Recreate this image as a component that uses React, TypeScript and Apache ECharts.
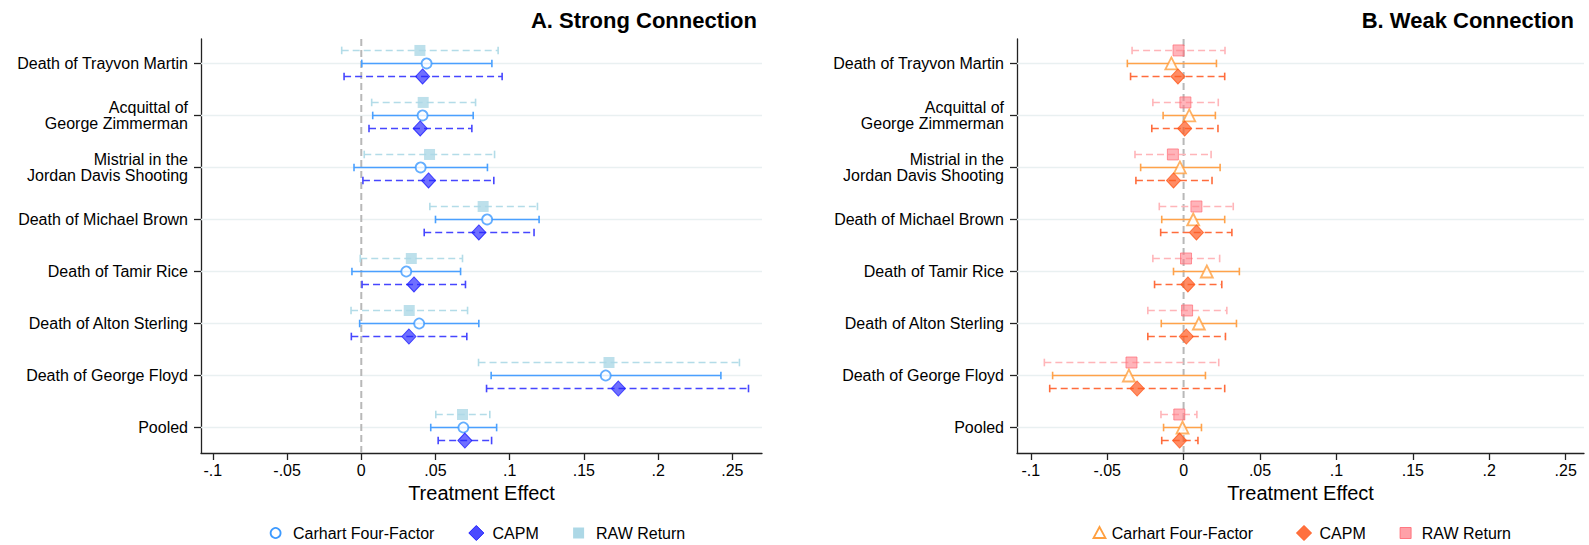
import React, { useEffect, useRef } from "react";
import * as echarts from "echarts";

// Events on the vertical axis, top to bottom
const events = [
  "Death of Trayvon Martin",
  "Acquittal of\nGeorge Zimmerman",
  "Mistrial in the\nJordan Davis Shooting",
  "Death of Michael Brown",
  "Death of Tamir Rice",
  "Death of Alton Sterling",
  "Death of George Floyd",
  "Pooled",
];

const xTickValues = [-0.1, -0.05, 0, 0.05, 0.1, 0.15, 0.2, 0.25];
const xTickLabels = ["-.1", "-.05", "0", ".05", ".1", ".15", ".2", ".25"];

// Panel A: strong connection
const strongCarhart = [0.044, 0.0413, 0.04, 0.0848, 0.0303, 0.039, 0.1647, 0.0688];
const strongCarhartLo = [0.0003, 0.0077, -0.0049, 0.05, -0.0063, -0.0011, 0.0875, 0.0468];
const strongCarhartHi = [0.088, 0.0754, 0.085, 0.1198, 0.0669, 0.0792, 0.2423, 0.0912];
const strongCapm = [0.0413, 0.0397, 0.0453, 0.0792, 0.0355, 0.0321, 0.1732, 0.0698];
const strongCapmLo = [-0.0116, 0.0052, 0.0011, 0.0424, 0.0005, -0.0067, 0.0844, 0.0518];
const strongCapmHi = [0.0949, 0.0745, 0.0893, 0.1164, 0.0702, 0.0711, 0.2609, 0.0878];
const strongRaw = [0.0395, 0.0417, 0.046, 0.0821, 0.0337, 0.0323, 0.1669, 0.0682];
const strongRawLo = [-0.0132, 0.007, 0.002, 0.0462, -0.0007, -0.0069, 0.079, 0.0502];
const strongRawHi = [0.0922, 0.077, 0.0898, 0.1187, 0.0682, 0.0716, 0.2548, 0.0866];

// Panel B: weak connection
const weakCarhart = [-0.008, 0.0037, -0.0024, 0.0063, 0.0152, 0.01, -0.0358, -0.0007];
const weakCarhartLo = [-0.0368, -0.0134, -0.0281, -0.0143, -0.0066, -0.0146, -0.0857, -0.0131];
const weakCarhartHi = [0.0215, 0.0208, 0.0239, 0.0269, 0.0365, 0.0346, 0.0143, 0.0117];
const weakCapm = [-0.0037, 0.0007, -0.0066, 0.0084, 0.0028, 0.0018, -0.0304, -0.0026];
const weakCapmLo = [-0.0347, -0.0208, -0.0312, -0.015, -0.019, -0.0234, -0.0876, -0.0143];
const weakCapmHi = [0.0269, 0.0225, 0.0186, 0.0316, 0.025, 0.0274, 0.0269, 0.0094];
const weakRaw = [-0.0033, 0.0012, -0.007, 0.0084, 0.0016, 0.0023, -0.0341, -0.0028];
const weakRawLo = [-0.0337, -0.0201, -0.0318, -0.0159, -0.0201, -0.0234, -0.0911, -0.0148];
const weakRawHi = [0.0271, 0.0227, 0.018, 0.0325, 0.0236, 0.0283, 0.023, 0.0087];

const FONT = '"Liberation Sans", Arial, Helvetica, sans-serif';

type Spec = {
  name: string;
  est: number[];
  lo: number[];
  hi: number[];
  offset: number;
  lineColor: string;
  dashed: boolean;
  symbol: string;
  symbolSize: number | number[];
  itemStyle: any;
};

function tickLabel(v: number) {
  const i = xTickValues.findIndex((t) => Math.abs(t - v) < 1e-9);
  return i >= 0 ? xTickLabels[i] : "";
}

function panelSeries(idx: number, specs: Spec[]) {
  const out: any[] = [];
  // horizontal guide line at each event
  out.push({
    type: "custom",
    name: "grid" + idx,
    xAxisIndex: idx,
    yAxisIndex: idx,
    z: 1,
    silent: true,
    encode: { x: 0, y: 1 },
    data: events.map((_, i) => [0, i + 1]),
    renderItem: (params: any, api: any) => {
      const cs = params.coordSys;
      const y = api.coord([api.value(0), api.value(1)])[1];
      return {
        type: "line",
        shape: { x1: cs.x, y1: y, x2: cs.x + cs.width, y2: y },
        style: { stroke: "#e9f0f1", lineWidth: 1.6 },
      };
    },
  });
  // reference line at zero effect
  out.push({
    type: "custom",
    name: "zero" + idx,
    xAxisIndex: idx,
    yAxisIndex: idx,
    z: 2,
    silent: true,
    encode: { x: 0, y: 1 },
    data: [[0, 1]],
    renderItem: (params: any, api: any) => {
      const cs = params.coordSys;
      const x = api.coord([api.value(0), api.value(1)])[0];
      return {
        type: "line",
        shape: { x1: x, y1: cs.y, x2: x, y2: cs.y + cs.height },
        style: { stroke: "#b8b8b8", lineWidth: 2, lineDash: [7, 4] },
      };
    },
  });
  specs.forEach((s) => {
    out.push({
      type: "custom",
      name: s.name + " CI " + idx,
      xAxisIndex: idx,
      yAxisIndex: idx,
      z: 3,
      silent: true,
      encode: { x: [0, 1], y: 2 },
      data: s.lo.map((l, i) => [l, s.hi[i], i + 1 + s.offset]),
      renderItem: (params: any, api: any) => {
        const y = api.value(2);
        const p1 = api.coord([api.value(0), y]);
        const p2 = api.coord([api.value(1), y]);
        const h = 3.8;
        const capStyle = { stroke: s.lineColor, lineWidth: 1.6 };
        return {
          type: "group",
          children: [
            {
              type: "line",
              shape: { x1: p1[0], y1: p1[1], x2: p2[0], y2: p2[1] },
              style: {
                stroke: s.lineColor,
                lineWidth: 1.6,
                lineDash: s.dashed ? [7, 4] : null,
              },
            },
            { type: "line", shape: { x1: p1[0], y1: p1[1] - h, x2: p1[0], y2: p1[1] + h }, style: capStyle },
            { type: "line", shape: { x1: p2[0], y1: p2[1] - h, x2: p2[0], y2: p2[1] + h }, style: capStyle },
          ],
        };
      },
    });
    out.push({
      type: "scatter",
      name: s.name + " " + idx,
      xAxisIndex: idx,
      yAxisIndex: idx,
      z: 4,
      symbol: s.symbol,
      symbolSize: s.symbolSize,
      itemStyle: s.itemStyle,
      data: s.est.map((v, i) => [v, i + 1 + s.offset]),
    });
  });
  return out;
}

function xAxis(idx: number, min: number, max: number) {
  return {
    type: "value",
    gridIndex: idx,
    min,
    max,
    name: "Treatment Effect",
    nameLocation: "middle",
    nameGap: 30,
    nameTextStyle: { fontSize: 20, color: "#000", fontFamily: FONT },
    splitLine: { show: false },
    axisLine: { onZero: false, lineStyle: { color: "#222", width: 1.3 } },
    axisTick: { customValues: xTickValues, length: 7, lineStyle: { color: "#222", width: 1.3 } },
    axisLabel: {
      customValues: xTickValues,
      formatter: (v: number) => tickLabel(v),
      fontSize: 16,
      color: "#000",
      fontFamily: FONT,
      margin: 9,
    },
  };
}

function yAxis(idx: number) {
  const ticks = events.map((_, i) => i + 1);
  return {
    type: "value",
    gridIndex: idx,
    min: 0.53,
    max: 8.49,
    inverse: true,
    splitLine: { show: false },
    axisLine: { show: true, onZero: false, lineStyle: { color: "#222", width: 1.3 } },
    axisTick: { show: true, customValues: ticks, length: 7, lineStyle: { color: "#222", width: 1.3 } },
    axisLabel: {
      customValues: ticks,
      formatter: (v: number) => events[Math.round(v) - 1] || "",
      fontSize: 16,
      lineHeight: 16,
      color: "#000",
      fontFamily: FONT,
      margin: 13,
      align: "right",
    },
  };
}

// legend drawn as marks plus text beneath each panel
function legendItems(items: { kind: string; cx: number; tx: number; text: string; style: any }[]) {
  const y = 533;
  const els: any[] = [];
  items.forEach((it) => {
    if (it.kind === "circle") {
      els.push({ type: "circle", shape: { cx: it.cx, cy: y, r: 5 }, style: it.style });
    } else if (it.kind === "diamond") {
      els.push({
        type: "polygon",
        shape: { points: [[it.cx, y - 7.5], [it.cx + 7.5, y], [it.cx, y + 7.5], [it.cx - 7.5, y]] },
        style: it.style,
      });
    } else if (it.kind === "triangle") {
      els.push({
        type: "polygon",
        shape: { points: [[it.cx, y - 6], [it.cx + 6, y + 5], [it.cx - 6, y + 5]] },
        style: it.style,
      });
    } else {
      els.push({ type: "rect", shape: { x: it.cx - 5.5, y: y - 5.5, width: 11, height: 11 }, style: it.style });
    }
    els.push({
      type: "text",
      x: it.tx,
      y,
      style: { text: it.text, fontSize: 16, fontFamily: FONT, fill: "#000", verticalAlign: "middle" },
    });
  });
  return els;
}

export default function App() {
  const ref = useRef<HTMLDivElement>(null);

  useEffect(() => {
    if (!ref.current) return;
    const chart = echarts.init(ref.current, null, { renderer: "svg" });

    const blueC = "#4aa0ff";
    const blueCapm = "#4646ff";
    const blueRaw = "#b3dce8";
    const orC = "#ffa24a";
    const orCapm = "#ff6c3c";
    const pinkRaw = "#ffb5b9";

    const strongSpecs: Spec[] = [
      {
        name: "RAW Return", est: strongRaw, lo: strongRawLo, hi: strongRawHi, offset: -0.25,
        lineColor: blueRaw, dashed: true, symbol: "rect", symbolSize: 11,
        itemStyle: { color: "#add8e6" },
      },
      {
        name: "Carhart Four-Factor", est: strongCarhart, lo: strongCarhartLo, hi: strongCarhartHi, offset: 0,
        lineColor: blueC, dashed: false, symbol: "circle", symbolSize: 10,
        itemStyle: { color: "#fff", borderColor: "#3d9aff", borderWidth: 1.8 },
      },
      {
        name: "CAPM", est: strongCapm, lo: strongCapmLo, hi: strongCapmHi, offset: 0.25,
        lineColor: blueCapm, dashed: true, symbol: "diamond", symbolSize: [14, 15],
        itemStyle: { color: "rgba(35,35,255,0.82)", borderColor: "#1e1eff", borderWidth: 1 },
      },
    ];
    const weakSpecs: Spec[] = [
      {
        name: "RAW Return", est: weakRaw, lo: weakRawLo, hi: weakRawHi, offset: -0.25,
        lineColor: pinkRaw, dashed: true, symbol: "rect", symbolSize: 11,
        itemStyle: { color: "rgba(255,125,135,0.72)", borderColor: "rgba(255,105,115,0.85)", borderWidth: 1 },
      },
      {
        name: "Carhart Four-Factor", est: weakCarhart, lo: weakCarhartLo, hi: weakCarhartHi, offset: 0,
        lineColor: orC, dashed: false, symbol: "triangle", symbolSize: 12,
        itemStyle: { color: "#fff", borderColor: "#ff9f3f", borderWidth: 1.8 },
      },
      {
        name: "CAPM", est: weakCapm, lo: weakCapmLo, hi: weakCapmHi, offset: 0.25,
        lineColor: orCapm, dashed: true, symbol: "diamond", symbolSize: [14, 15],
        itemStyle: { color: "rgba(255,92,35,0.88)", borderColor: "#ff5a1e", borderWidth: 1 },
      },
    ];

    chart.setOption({
      animation: false,
      backgroundColor: "#fff",
      textStyle: { fontFamily: FONT },
      title: [
        {
          text: "A. Strong Connection", right: 832, top: 9, padding: 0,
          textStyle: { fontSize: 22, fontWeight: "bold", color: "#000", fontFamily: FONT },
        },
        {
          text: "B. Weak Connection", right: 15, top: 9, padding: 0,
          textStyle: { fontSize: 22, fontWeight: "bold", color: "#000", fontFamily: FONT },
        },
      ],
      grid: [
        { left: 201, top: 39, width: 561, height: 414 },
        { left: 1017, top: 39, width: 567, height: 414 },
      ],
      xAxis: [xAxis(0, -0.108, 0.27), xAxis(1, -0.109, 0.262)],
      yAxis: [yAxis(0), yAxis(1)],
      series: [...panelSeries(0, strongSpecs), ...panelSeries(1, weakSpecs)],
      graphic: [
        ...legendItems([
          { kind: "circle", cx: 275.6, tx: 293, text: "Carhart Four-Factor", style: { fill: "#fff", stroke: "#3d9aff", lineWidth: 1.8 } },
          { kind: "diamond", cx: 476.3, tx: 492.5, text: "CAPM", style: { fill: "rgba(35,35,255,0.82)", stroke: "#1e1eff", lineWidth: 1 } },
          { kind: "rect", cx: 578.6, tx: 596, text: "RAW Return", style: { fill: "#add8e6" } },
          { kind: "triangle", cx: 1099.5, tx: 1111.7, text: "Carhart Four-Factor", style: { fill: "#fff", stroke: "#ff9f3f", lineWidth: 1.8 } },
          { kind: "diamond", cx: 1304, tx: 1319.5, text: "CAPM", style: { fill: "rgba(255,92,35,0.88)", stroke: "#ff5a1e", lineWidth: 1 } },
          { kind: "rect", cx: 1405.6, tx: 1421.8, text: "RAW Return", style: { fill: "rgba(255,125,135,0.72)", stroke: "rgba(255,105,115,0.85)", lineWidth: 1 } },
        ]),
      ],
    });

    return () => chart.dispose();
  }, []);

  return (
    <div
      ref={ref}
      style={{ position: "absolute", left: 0, top: 0, width: 1589, height: 545 }}
    />
  );
}
